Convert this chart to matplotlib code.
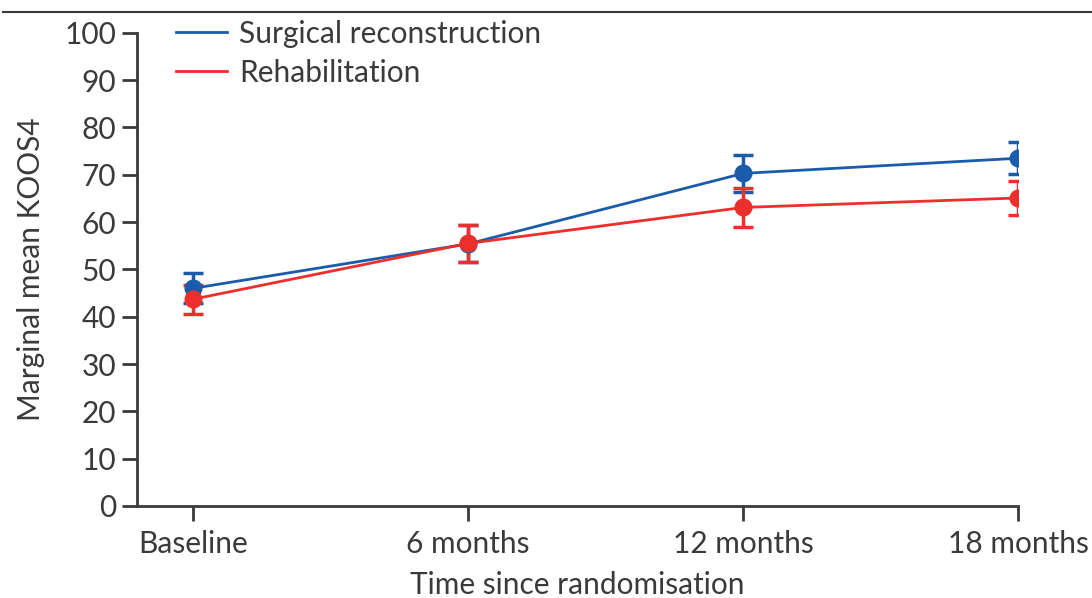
import numpy as np
import matplotlib.pyplot as plt
from matplotlib.lines import Line2D

plt.rcParams['font.family'] = ['Lato', 'DejaVu Sans']

# Marginal mean KOOS4 per visit, with 95% CI half-widths
timepoints = ["Baseline", "6 months", "12 months", "18 months"]
surgical_mean = [46.0, 55.4, 70.3, 73.5]
surgical_err = [3.2, 3.9, 3.9, 3.4]
rehab_mean = [43.7, 55.5, 63.1, 65.1]
rehab_err = [3.1, 3.9, 4.1, 3.5]

blue = "#1a5cab"
red = "#ec2f2c"
grey = "#3a3a3a"
fs = 21.5

fig = plt.figure(figsize=(10.92, 5.98), dpi=100)
ax = fig.add_axes([0.1255, 0.154, 0.807, 0.791])

x = np.arange(len(timepoints))
ax.errorbar(x, surgical_mean, yerr=surgical_err, color=blue, lw=2.0,
            marker="o", ms=12, capsize=7, capthick=2.5, elinewidth=2.5,
            label="Surgical reconstruction")
ax.errorbar(x, rehab_mean, yerr=rehab_err, color=red, lw=2.0,
            marker="o", ms=12, capsize=7, capthick=2.5, elinewidth=2.5,
            label="Rehabilitation")

ax.set_xlim(-0.204, 3)
ax.set_ylim(0, 100)
ax.set_yticks(np.arange(0, 101, 10))
ax.set_xticks(x)
ax.set_xticklabels(timepoints)

for side in ["top", "right"]:
    ax.spines[side].set_visible(False)
for side in ["left", "bottom"]:
    ax.spines[side].set_linewidth(2)
    ax.spines[side].set_color(grey)
    ax.spines[side].set_capstyle("projecting")

ax.tick_params(axis="both", direction="out", length=11, width=2, color=grey,
               labelsize=fs, labelcolor=grey, pad=4)
ax.tick_params(axis="x", pad=6)

ax.set_ylabel("Marginal mean KOOS4", fontsize=fs, color=grey, labelpad=14)
ax.set_xlabel("Time since randomisation", fontsize=fs, color=grey, labelpad=10)

handles = [Line2D([], [], color=blue, lw=2), Line2D([], [], color=red, lw=2)]
ax.legend(handles, ["Surgical reconstruction", "Rehabilitation"],
          loc="upper left", bbox_to_anchor=(0.014, 1.085), frameon=False,
          fontsize=fs, labelcolor=grey, handlelength=1.7, handletextpad=0.4,
          labelspacing=0.37)

fig.add_artist(Line2D([0.003, 1.0], [0.98, 0.98], color=grey, lw=1.5,
                      transform=fig.transFigure))

fig.savefig("out.png", dpi=100, facecolor="white")
